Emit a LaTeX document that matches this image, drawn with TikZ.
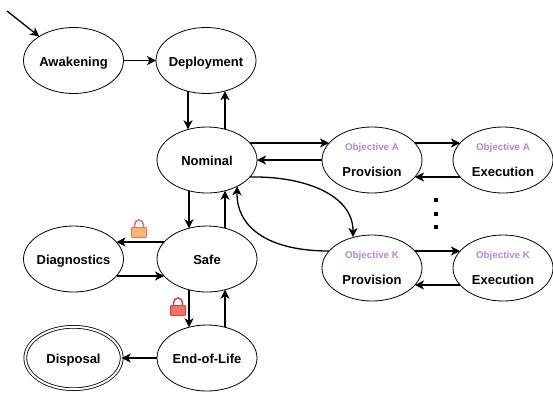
\documentclass[tikz,border=0pt]{standalone}
\usepackage{fontspec}
\setmainfont{Liberation Sans}
\usetikzlibrary{shapes.geometric,arrows.meta}
\definecolor{objpurple}{HTML}{B38AD0}
\definecolor{lockorange}{HTML}{FFB570}
\definecolor{lockorangeline}{HTML}{D0806A}
\definecolor{lockred}{HTML}{F8705F}
\definecolor{lockredline}{HTML}{B85450}
\newcommand{\lbl}[1]{\makebox[0pt]{#1}}
\tikzset{
  st/.style={ellipse,draw=black,line width=0.8pt,minimum width=100pt,minimum height=66pt,inner sep=0pt,outer sep=0pt,text height=12pt,text depth=0.5pt,font=\fontsize{13}{15}\selectfont\bfseries},
  dbl/.style={st,double,double distance=2pt,minimum width=96.4pt,minimum height=62.4pt},
  obj/.style={inner sep=0pt,text=objpurple,text height=9pt,text depth=0pt,font=\fontsize{9.8}{11}\selectfont\bfseries},
  txt/.style={inner sep=0pt,text height=12pt,text depth=0pt,font=\fontsize{13}{15}\selectfont\bfseries},
  conn/.style={line width=1.3pt,-{Stealth[length=9pt,width=9pt,inset=2.5pt]}},
  lockbody/.style={line width=1pt,rounded corners=0.8pt},
  lockshackle/.style={line width=1.6pt},
  vdot/.style={fill=black,minimum size=3.4pt,inner sep=0pt,draw=none,rectangle}
}
\begin{document}
\begin{tikzpicture}[x=1pt,y=-1pt]
\useasboundingbox (0,0) rectangle (553,392);
\fill[white] (0,0) rectangle (553,392);
\node[st] (awake) at (73.5,60.5) {\lbl{Awakening}};
\node[st] (deploy) at (206,60.5) {\lbl{Deployment}};
\node[st] (nom) at (207,160) {\lbl{Nominal}};
\node[st] (safe) at (207,259) {\lbl{Safe}};
\node[st] (eol) at (207,358) {\lbl{End-of-Life}};
\node[st] (diag) at (73.5,259) {\lbl{Diagnostics}};
\node[dbl] (disp) at (73.5,358) {\lbl{Disposal}};
\node[st] (pa) at (372,160) {};
\node[st] (ea) at (503,160) {};
\node[st] (pk) at (372,268) {};
\node[st] (ek) at (503,268) {};
\foreach \n/\o/\t in {pa/Objective A/Provision,ea/Objective A/Execution,pk/Objective K/Provision,ek/Objective K/Execution}{
  \node[obj] (\n o) at ([yshift=13.8pt]\n.center) {\o};
  \node[txt] (\n t) at ([yshift=-10pt]\n.center) {\t};
}
\coordinate (start) at (7,11);
\draw[conn] (start) -- (awake.145);
\draw[conn] (awake) -- (deploy);
% vertical pairs, 18pt either side of the centre line
\draw[conn] ([xshift=-18pt,yshift=2.3pt]deploy.south) -- ([xshift=-19pt,yshift=-2.3pt]nom.north);
\draw[conn] ([xshift=18pt,yshift=-2.3pt]nom.north) -- ([xshift=19pt,yshift=2.3pt]deploy.south);
\draw[conn] ([xshift=-18pt,yshift=2.3pt]nom.south) -- ([xshift=-18pt,yshift=-2.3pt]safe.north);
\draw[conn] ([xshift=18pt,yshift=-2.3pt]safe.north) -- ([xshift=18pt,yshift=2.3pt]nom.south);
\draw[conn] ([xshift=-18pt,yshift=2.3pt]safe.south) -- ([xshift=-18pt,yshift=-2.3pt]eol.north);
\draw[conn] ([xshift=18pt,yshift=-2.3pt]eol.north) -- ([xshift=18pt,yshift=2.3pt]safe.south);
\draw[conn] (eol) -- (disp);
% horizontal pairs, 17pt above and below the centre line
\draw[conn] ([xshift=7pt,yshift=17pt]safe.west) -- ([xshift=-7pt,yshift=17pt]diag.east);
\draw[conn] ([xshift=-7pt,yshift=-17pt]diag.east) -- ([xshift=7pt,yshift=-17pt]safe.west);
\draw[conn] ([xshift=-7pt,yshift=17pt]nom.east) -- ([xshift=7pt,yshift=17pt]pa.west);
\draw[conn] (pa) -- (nom);
\draw[conn] ([xshift=-7pt,yshift=17pt]pa.east) -- ([xshift=7pt,yshift=17pt]ea.west);
\draw[conn] ([xshift=7pt,yshift=-17pt]ea.west) -- ([xshift=-7pt,yshift=-17pt]pa.east);
\draw[conn] ([xshift=-7pt,yshift=17pt]pk.east) -- ([xshift=7pt,yshift=17pt]ek.west);
\draw[conn] ([xshift=7pt,yshift=-17pt]ek.west) -- ([xshift=-7pt,yshift=-17pt]pk.east);
% curved pair
\draw[conn] ([xshift=-7pt,yshift=-17pt]nom.east) .. controls (305,176) and (353,195) .. ([xshift=-19pt,yshift=-2pt]pk.north);
\draw[conn] ([xshift=7pt,yshift=17pt]pk.west) .. controls (265,251) and (236,225) .. (nom.319);
\foreach \y/\m in {200/a,214/b,227/c}{\node[vdot] (dot\m) at (436,\y) {};}
% orange lock
\draw[lockshackle,draw=lockorangeline] (134.5,228) -- (134.5,225) arc[start angle=180,end angle=0,x radius=4.5,y radius=-5] -- (143.5,228);
\draw[lockbody,fill=lockorange,draw=lockorangeline] (131.5,227.5) rectangle (146.5,237.5);
% red lock
\draw[lockshackle,draw=lockredline] (173.5,306) -- (173.5,303) arc[start angle=180,end angle=0,x radius=4.5,y radius=-5] -- (182.5,306);
\draw[lockbody,fill=lockred,draw=lockredline] (170.5,305.5) rectangle (185.5,315.5);
\end{tikzpicture}
\end{document}
